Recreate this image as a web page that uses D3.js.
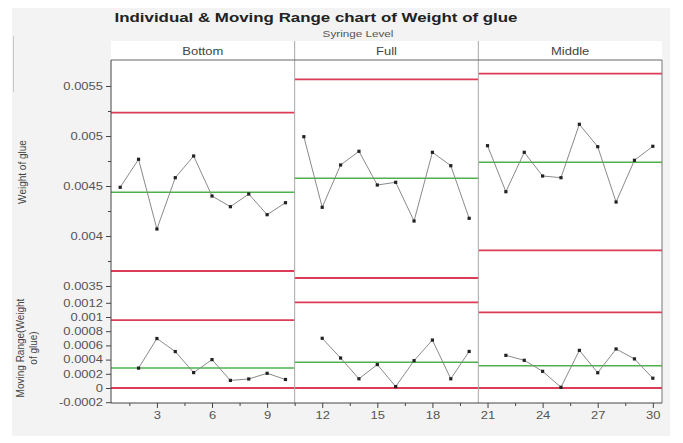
<!DOCTYPE html>
<html><head><meta charset="utf-8">
<script src="https://cdn.jsdelivr.net/npm/d3@7"></script>
<style>body{margin:0;background:#fff}svg{display:block;font-family:"Liberation Sans",Arial,sans-serif}</style>
</head><body><svg id="c" width="683" height="443"></svg>
<script>
// ---- data ----
const panels = ["Bottom", "Full", "Middle"];
const sampleIndex = d3.range(1, 31);
const weight = [
  0.004487, 0.004767, 0.004070, 0.004583, 0.004800, 0.004400, 0.004293, 0.004420, 0.004213, 0.004333,
  0.004993, 0.004287, 0.004710, 0.004847, 0.004510, 0.004537, 0.004150, 0.004837, 0.004703, 0.004177,
  0.004903, 0.004443, 0.004837, 0.004600, 0.004583, 0.005117, 0.004893, 0.004340, 0.004757, 0.004897
];
const movingRange = [
  null, 0.000280, 0.000697, 0.000513, 0.000217, 0.000400, 0.000107, 0.000127, 0.000207, 0.000120,
  null, 0.000700, 0.000422, 0.000130, 0.000330, 0.000020, 0.000385, 0.000675, 0.000130, 0.000515,
  null, 0.000460, 0.000390, 0.000235, 0.000010, 0.000530, 0.000215, 0.000550, 0.000410, 0.000138
];
const indUCL = [0.005233, 0.005567, 0.005623];
const indCL  = [0.004437, 0.004577, 0.004737];
const indLCL = [0.003650, 0.003580, 0.003857];
const mrUCL  = [0.000957, 0.001207, 0.001066];
const mrCL   = [0.000282, 0.000362, 0.000314];
const mrLCL  = [0, 0, 0];
const xTicks = [3, 6, 9, 12, 15, 18, 21, 24, 27, 30];
const indTicks = [0.0035, 0.004, 0.0045, 0.005, 0.0055];
const mrTicks = [-0.0002, 0, 0.0002, 0.0004, 0.0006, 0.0008, 0.001, 0.0012];

// ---- layout ----
const svg = d3.select("#c");
const L = 111, R = 662, T = 60, B = 403, HT = 41;
const SX = 1.3; // horizontal stretch of horizontal text
const x = d3.scaleLinear().domain([0.5, 30.5]).range([L, R]);
const yI = d3.scaleLinear().domain([0.0035, 0.0055]).range([286, 86]);
const yM = d3.scaleLinear().domain([-0.0002, 0.0012]).range([402.2, 302.8]);
const fmt = d => d3.format("")(d).replace("\u2212", "-");

svg.append("rect").attr("width", 683).attr("height", 443).attr("fill", "#fff");
svg.append("rect").attr("x", 12).attr("y", 8).attr("width", 658).attr("height", 428).attr("fill", "#f3f3f3");
svg.append("line").attr("x1", 13.5).attr("x2", 13.5).attr("y1", 36).attr("y2", 92).attr("stroke", "#c8c8c8");

function htext(xp, yp, s, size, bold, color) {
  svg.append("text").attr("transform", `translate(${xp},${yp}) scale(${SX},1)`)
    .attr("text-anchor", "middle").attr("font-size", size)
    .attr("font-weight", bold ? "bold" : "normal").attr("fill", color).text(s);
}
// title
htext(316, 21.5, "Individual & Moving Range chart of Weight of glue", 13, true, "#222");
htext(358, 37, "Syringe Level", 9, false, "#555");

// plot background incl. header
svg.append("rect").attr("x", L).attr("y", HT).attr("width", R - L).attr("height", B - HT).attr("fill", "#fff");

// headers
panels.forEach((p, i) => {
  htext((x(0.5 + 10 * i) + x(10.5 + 10 * i)) / 2, 55, p, 10, false, "#444");
});

// control lines
function hline(y, v, i, color, w) {
  svg.append("line").attr("x1", x(0.5 + 10 * i)).attr("x2", x(10.5 + 10 * i))
    .attr("y1", y(v)).attr("y2", y(v)).attr("stroke", color).attr("stroke-width", w);
}
const red = "#dc3c55", green = "#4cb24c";
panels.forEach((p, i) => {
  hline(yI, indUCL[i], i, red, 1.8);
  hline(yI, indLCL[i], i, red, 1.8);
  hline(yI, indCL[i], i, green, 1.6);
  hline(yM, mrUCL[i], i, red, 1.8);
  hline(yM, mrLCL[i], i, red, 1.8);
  hline(yM, mrCL[i], i, green, 1.6);
});

// data lines & points
panels.forEach((p, i) => {
  const idx = sampleIndex.slice(10 * i, 10 * i + 10);
  const lineI = d3.line().x(d => x(d)).y(d => yI(weight[d - 1]));
  svg.append("path").attr("d", lineI(idx)).attr("fill", "none").attr("stroke", "#8a8a8a").attr("stroke-width", 1);
  const idxM = idx.filter(d => movingRange[d - 1] !== null);
  const lineM = d3.line().x(d => x(d)).y(d => yM(movingRange[d - 1]));
  svg.append("path").attr("d", lineM(idxM)).attr("fill", "none").attr("stroke", "#8a8a8a").attr("stroke-width", 1);
  svg.selectAll(null).data(idx).enter().append("rect")
    .attr("x", d => x(d) - 1.6).attr("y", d => yI(weight[d - 1]) - 1.6)
    .attr("width", 3.2).attr("height", 3.2).attr("fill", "#222");
  svg.selectAll(null).data(idxM).enter().append("rect")
    .attr("x", d => x(d) - 1.6).attr("y", d => yM(movingRange[d - 1]) - 1.6)
    .attr("width", 3.2).attr("height", 3.2).attr("fill", "#222");
});

// panel separators
[10.5, 20.5].forEach(v => {
  svg.append("line").attr("x1", x(v)).attr("x2", x(v)).attr("y1", HT).attr("y2", B)
    .attr("stroke", "#a8a8a8").attr("stroke-width", 1);
});
svg.append("line").attr("x1", L).attr("x2", R).attr("y1", T).attr("y2", T).attr("stroke", "#666");
svg.append("line").attr("x1", R).attr("x2", R).attr("y1", T).attr("y2", B).attr("stroke", "#777");

// axes
function styleAxis(g) {
  g.selectAll("path,line").attr("stroke", "#444");
  g.selectAll("text").attr("fill", "#555").attr("font-size", 10)
    .attr("font-family", "'Liberation Sans',Arial,sans-serif")
    .each(function () {
      const t = d3.select(this);
      const xx = +t.attr("x");
      t.attr("x", xx / SX).attr("transform", `scale(${SX},1)`);
    });
}
const gI = svg.append("g").attr("transform", `translate(${L},0)`)
  .call(d3.axisLeft(yI).tickValues(indTicks).tickSize(5).tickPadding(3).tickFormat(fmt));
gI.select(".domain").remove();
styleAxis(gI);
const gIm = svg.append("g").attr("transform", `translate(${L},0)`)
  .call(d3.axisLeft(yI).tickValues([0.00375, 0.00425, 0.00475, 0.00525]).tickSize(3).tickFormat(""));
gIm.select(".domain").remove();
styleAxis(gIm);
const gM = svg.append("g").attr("transform", `translate(${L},0)`)
  .call(d3.axisLeft(yM).tickValues(mrTicks).tickSize(5).tickPadding(3).tickFormat(fmt));
gM.select(".domain").remove();
styleAxis(gM);
svg.append("line").attr("x1", L).attr("x2", L).attr("y1", T).attr("y2", B).attr("stroke", "#444");

const gX = svg.append("g").attr("transform", `translate(0,${B})`)
  .call(d3.axisBottom(x).tickValues(xTicks).tickSize(5).tickPadding(4).tickFormat(d3.format("d")));
gX.select(".domain").remove();
styleAxis(gX);
const gXm = svg.append("g").attr("transform", `translate(0,${B})`)
  .call(d3.axisBottom(x).tickValues(d3.range(1.5, 31, 3)).tickSize(3).tickFormat(""));
gXm.select(".domain").remove();
styleAxis(gXm);
svg.append("line").attr("x1", L).attr("x2", R).attr("y1", B).attr("y2", B).attr("stroke", "#444");

// y titles
svg.append("text").attr("transform", "translate(26,172) rotate(-90)").attr("text-anchor", "middle")
  .attr("font-size", 10).attr("fill", "#444").text("Weight of glue");
const mt = svg.append("text").attr("transform", "translate(24,348) rotate(-90)").attr("text-anchor", "middle")
  .attr("font-size", 10).attr("fill", "#444");
mt.append("tspan").attr("x", 0).attr("dy", 0).text("Moving Range(Weight");
mt.append("tspan").attr("x", 0).attr("dy", 13).text("of glue)");
</script></body></html>
